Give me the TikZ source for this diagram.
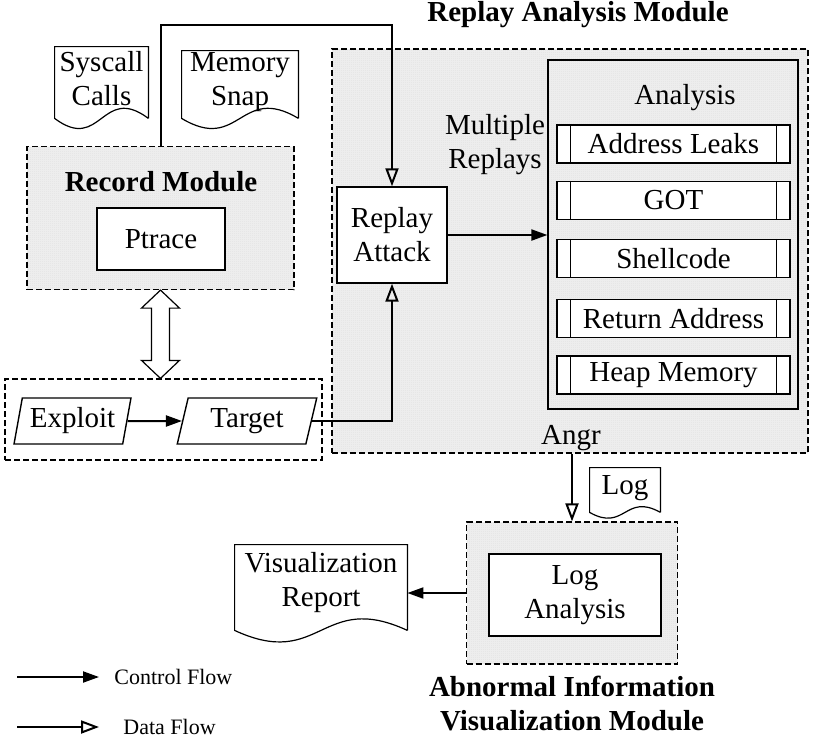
\documentclass[tikz,border=0pt]{standalone}
\usepackage{fontspec}
\setmainfont{Liberation Serif}
\usetikzlibrary{calc}
\usetikzlibrary{arrows.meta}
\usetikzlibrary{shapes.geometric}
\usetikzlibrary{patterns}

% fine dotted fill of the modules
\pgfdeclarepatternformonly{finedots}{\pgfqpoint{0pt}{0pt}}{\pgfqpoint{1.2pt}{1.2pt}}{\pgfqpoint{1.2pt}{1.2pt}}%
  {\pgfpathcircle{\pgfqpoint{0.6pt}{0.6pt}}{0.3pt}\pgfusepath{fill}}

% outline of a document node, #2 = depth of the wave, #3 = top trim
\newcommand{\wavedoc}[3]{%
  \draw[line width=0.6pt] (#1.south east) -- ([yshift=-#3]#1.north east) -- ([yshift=-#3]#1.north west) -- (#1.south west)
    .. controls ($(#1.south)+(0,#2)$) and ($(#1.south)+(0,-#2)$) .. (#1.south east);}

\tikzset{
  module/.style={draw, line width=0.6pt, dash pattern=on 3pt off 1.5pt, inner sep=0pt,
    preaction={fill=gray!10}, pattern=finedots, pattern color=gray!50},
  box/.style={draw, fill=white, line width=0.7pt, inner sep=0pt, align=center},
  item/.style={box, minimum width=116.5pt, minimum height=19pt},
  doc/.style={inner sep=0pt, align=center},
  slant/.style={draw, fill=white, line width=0.7pt, inner sep=0pt, trapezium, trapezium stretches,
    trapezium left angle=75, trapezium right angle=105, minimum height=23pt},
  title/.style={font=\fontsize{14.5}{17}\selectfont\bfseries, align=center},
  ctrl/.style={line width=1pt, -{Triangle[length=8pt,width=5.5pt]}},
  data/.style={line width=1pt, -{Triangle[open,length=9pt,width=6.5pt]}},
}

\begin{document}
\begin{tikzpicture}[x=0.5pt, y=-0.5pt, font=\fontsize{14.5}{17}\selectfont]
\useasboundingbox (0,0) rectangle (814,740);

% record module
\node[module, minimum width=133.5pt, minimum height=71.5pt] (rec) at (160.5,218) {};
\node[title] (rectitle) at (161,182) {Record Module};
\node[box, minimum width=64pt, minimum height=31pt] (ptrace) at (161,239) {Ptrace};
\node[doc, minimum width=46.5pt, minimum height=39.5pt] (syscall) at (101.5,78.5) {Syscall\\Calls};
\wavedoc{syscall}{35}{4pt}
\node[doc, minimum width=58pt, minimum height=35.5pt] (memsnap) at (240,82.5) {Memory\\Snap};
\wavedoc{memsnap}{35}{2pt}

% exploit and target
\node[draw, dash pattern=on 3pt off 1.5pt, line width=0.6pt, minimum width=158.5pt, minimum height=40.5pt] (grp) at (163.5,419.5) {};
\node[slant, minimum width=58.5pt] (exploit) at (72.5,421) {Exploit};
\node[slant, minimum width=70pt] (target) at (247,421) {Target};

% replay analysis module
\node[title] (rmodtitle) at (578,15) {Replay Analysis Module};
\node[module, minimum width=238pt, minimum height=202pt] (rmod) at (570,251) {};
\node[draw, line width=0.6pt, inner sep=0pt, preaction={fill=gray!10}, pattern=finedots, pattern color=gray!50,
  minimum width=125pt, minimum height=174.5pt] (ana) at (673,234.5) {};
\node (anatitle) at (685,98) {Analysis};
\foreach \t/\y [count=\i] in {Address Leaks/144, GOT/200.5, Shellcode/258.5, Return Address/318.5, Heap Memory/375}{
  \node[item] (a\i) at (673.5,\y) {\t};
  \draw[line width=0.6pt] ([xshift=7pt]a\i.north west) -- ([xshift=7pt]a\i.south west);
  \draw[line width=0.6pt] ([xshift=-7pt]a\i.north east) -- ([xshift=-7pt]a\i.south east);
}
\node[box, minimum width=55pt, minimum height=48pt] (attack) at (392,235) {Replay\\Attack};
\node[align=center] (multi) at (495,145) {Multiple\\Replays};
\node (angr) at (571,438) {Angr};

% abnormal information visualization module
\node[module, minimum width=105.5pt, minimum height=71pt] (logmod) at (572,593) {};
\node[box, minimum width=86pt, minimum height=41pt] (logan) at (575,595) {Log\\Analysis};
\node[title] (logtitle) at (572,703) {Abnormal Information\\Visualization Module};
\node[doc, minimum width=35pt, minimum height=24pt] (logdoc) at (625,488) {Log};
\wavedoc{logdoc}{20}{2pt}
\node[doc, minimum width=86pt, minimum height=47.5pt] (report) at (321,582.5) {Visualization\\Report};
\wavedoc{report}{40}{5pt}

% connectors
\coordinate (turn) at (392,25);
\draw[data] (rec.north) |- (turn) -- (attack.north);
\draw[data] (target.east) -| (attack.south);
\draw[ctrl] (exploit) -- (target);
\draw[ctrl] (attack.east) -- (attack.east -| ana.west);
\draw[data] (logmod.north |- rmod.south) -- (logmod.north);
\draw[ctrl] (logmod.west) -- (logmod.west -| report.east);

% two way arrow between record module and the exploit group
\coordinate (da1) at (rec.south);
\coordinate (da2) at (rec.south |- grp.north);
\draw[fill=white, line width=0.6pt] (da1) -- ($(da1)+(19,18)$) -- ($(da1)+(9,18)$) -- ($(da2)+(9,-18)$)
  -- ($(da2)+(19,-18)$) -- (da2) -- ($(da2)+(-19,-18)$) -- ($(da2)+(-9,-18)$)
  -- ($(da1)+(-9,18)$) -- ($(da1)+(-19,18)$) -- cycle;

% legend
\coordinate (cf1) at (17,677);
\coordinate (cf2) at (99,677);
\coordinate (df1) at (17,727);
\coordinate (df2) at (99,727);
\draw[ctrl] (cf1) -- (cf2);
\draw[data] (df1) -- (df2);
\node[anchor=west, inner sep=0pt, font=\fontsize{11}{13}\selectfont] (cftext) at (114,677) {Control Flow};
\node[anchor=west, inner sep=0pt, font=\fontsize{11}{13}\selectfont] (dftext) at (123,727) {Data Flow};
\end{tikzpicture}
\end{document}
